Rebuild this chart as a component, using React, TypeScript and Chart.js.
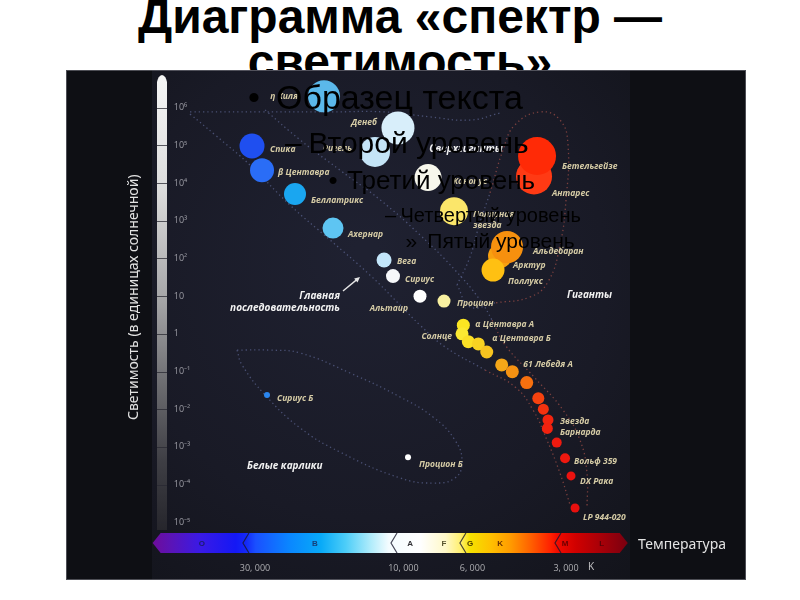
import React, { useEffect, useRef } from 'react';
import { Chart, registerables } from 'chart.js';

Chart.register(...registerables);

// ---------------- data ----------------
const starNames = [
  'η Киля', 'Денеб', 'Ригель', 'Спика', 'β Центавра', 'Беллатрикс', 'Ахернар', 'Вега', 'Сириус',
  'Альтаир', 'Процион', 'Канопус', 'Полярная\nзвезда', 'Арктур', 'Альдебаран', 'Поллукс', 'Антарес',
  'Бетельгейзе', 'α Центавра A', 'Солнце', '', 'α Центавра Б', '', '', '61 Лебедя A', '', '', '',
  'Звезда\nБарнарда', '', '', 'Вольф 359', 'DX Рака', 'LP 944-020', 'Сириус Б', 'Процион Б',
];
// effective temperature, K
const starTemps = [
  18000, 10410, 12340, 30670, 28480, 22310, 16840, 11540, 10800, 8844, 7403, 8333, 6876, 4890, 4643,
  5150, 3802, 3718, 6417, 6479, 6184, 5742, 5396, 4830, 4465, 4013, 3683, 3549, 3428, 3445, 3214,
  3022, 2891, 2806, 27450, 9663,
];
// luminosity, solar units
const starLums = [
  2.0e6, 2.9e5, 6.7e4, 9.6e4, 2.2e4, 5100, 640, 91, 34, 10, 7.4, 1.4e4, 1800, 116, 200, 49, 1.5e4,
  5.2e4, 1.7, 1.0, 0.62, 0.54, 0.33, 0.15, 0.099, 0.051, 0.0195, 0.01, 0.0052, 0.0031, 0.0013,
  5.0e-4, 1.7e-4, 2.4e-5, 0.024, 5.3e-4,
];

const yTickValues = [1e6, 1e5, 1e4, 1e3, 1e2, 10, 1, 0.1, 0.01, 1e-3, 1e-4, 1e-5];
const yTickLabels = ['10⁶', '10⁵', '10⁴', '10³', '10²', '10', '1', '10⁻¹', '10⁻²', '10⁻³', '10⁻⁴', '10⁻⁵'];
const xTickValues = [30000, 10000, 6000, 3000];
const xTickLabels = ['30, 000', '10, 000', '6, 000', '3, 000'];

const spectralClasses = ['O', 'B', 'A', 'F', 'G', 'K', 'M', 'L'];
const spectralLabelTemps = [44500, 19250, 9520, 7405, 6107, 4890, 3022, 2303];
const spectralBoundaries = [32800, 10960, 6580, 3255];
const temperatureBarEnds = [64000, 1900];

const regionNames = ['Сверхгиганты', 'Главная\nпоследовательность', 'Гиганты', 'Белые карлики'];
const regionTemps = [6290, 15990, 2978, 31830];
const regionLums = [8.0e4, 10.1, 10.7, 3.1e-4];

const arrowFrom = [15640, 13.7];
const arrowTo = [13790, 32.2];

// dotted region outlines as [temperature, luminosity]
const supergiantEdge = [
  [48550, 7.7e5], [28910, 7.7e5], [17220, 7.7e5], [11460, 7.7e5], [8211, 5.7e5], [6107, 4.7e5], [4890, 7.2e5],
];
const mainSeqLowerEdge = [
  [48550, 6.8e5], [40340, 1.9e5], [31130, 3.0e4], [23150, 2600], [17220, 310], [12800, 36], [10250, 5.8],
  [8844, 1.7], [7348, 0.45], [5465, 0.11], [4376, 0.039], [3830, 0.0095], [3453, 0.0015], [3136, 2.0e-4],
  [2912, 2.9e-5],
];
const mainSeqUpperEdge = [
  [27850, 8.7e5], [21500, 1.4e5], [15990, 2.2e4], [11890, 3600], [8844, 420], [6823, 49], [5670, 7.9],
  [5188, 2.3], [4713, 0.51], [3774, 0.067], [3067, 0.0095], [2704, 0.0015], [2568, 2.0e-4], [2568, 2.5e-5],
];
const giantsEdge = [
  [6723, 19.8], [6107, 110], [5670, 930], [5266, 5500], [4784, 7.5e4], [4376, 3.5e5], [3637, 7.7e5],
  [3136, 4.7e5], [2956, 1.0e5], [3000, 3600], [3136, 230], [3428, 24], [3916, 9.5], [5074, 6.6],
  [6107, 5.2], [6723, 19.8],
];
const whiteDwarfEdge = [
  [34280, 0.37], [26850, 0.37], [21500, 0.31], [14850, 0.0915], [10250, 0.0211], [8032, 0.0062],
  [6823, 0.0015], [6479, 4.0e-4], [6823, 1.5e-4], [8032, 1.1e-4], [10250, 1.5e-4], [15990, 7.3e-4],
  [21500, 0.0032], [27850, 0.024], [33030, 0.15], [34280, 0.37],
];

// ---------------- styles ----------------
const starRadii = [
  16, 16.5, 15, 12.5, 12, 11, 10.5, 7.5, 7, 6.5, 6.5, 13.5, 14, 12, 16, 11.5, 18, 19,
  6.5, 6.5, 6.5, 6.5, 6.5, 6.5, 6.5, 6.5, 6, 5.5, 5.5, 5.5, 5, 5, 4.5, 4.5, 3, 3,
];
const starColors = [
  '#5bb8ea', '#d8eefa', '#c4e4f6', '#1f4ff0', '#2a6df6', '#1aa6f0', '#5ec5f2', '#c3e6fa', '#f6f8fa',
  '#ffffff', '#f8f0a0', '#f7f7ec', '#fbe66a', '#f8a010', '#f6900e', '#ffc012', '#ff3a14', '#ff2a06',
  '#fbe622', '#fbe932', '#fbe026', '#f8d222', '#f7c420', '#f5a718', '#f59212', '#f6700f', '#f5420f',
  '#f3320f', '#f2240f', '#f2220f', '#ee1a0f', '#ee180f', '#ec120f', '#e8100e', '#2a86f0', '#ffffff',
];
const labelOffsets: [number, number, CanvasTextAlign][] = [
  [-26, 0, 'right'], [-21, -5, 'right'], [-23, -3, 'right'], [18, 4, 'left'], [16, 2, 'left'],
  [16, 6, 'left'], [15, 7, 'left'], [13, 2, 'left'], [12, 3, 'left'], [-12, 12, 'right'],
  [13, 3, 'left'], [25, 4, 'left'], [19, 3, 'left'], [13, 10, 'left'], [26, 4, 'left'],
  [15, 11, 'left'], [18, 17, 'left'], [25, 11, 'left'], [12, -1, 'left'], [-10, 3, 'right'],
  [0, 0, 'left'], [14, -5, 'left'], [0, 0, 'left'], [0, 0, 'left'], [11, -7, 'left'], [0, 0, 'left'],
  [0, 0, 'left'], [0, 0, 'left'], [12, 2, 'left'], [0, 0, 'left'], [0, 0, 'left'], [9, 3, 'left'],
  [9, 6, 'left'], [8, 10, 'left'], [10, 4, 'left'], [11, 7, 'left'],
];
const regionAlign: CanvasTextAlign[] = ['center', 'right', 'left', 'left'];
const spectralLetterColors = ['#1c1c6a', '#16407a', '#333338', '#5a5530', '#4a3a00', '#6a3000', '#6a0000', '#5a0008'];

const FONT = "'Liberation Sans', Arial, sans-serif";

const outlineColor = (t: number) => (t < 5300 ? 'rgba(175,85,75,0.65)' : 'rgba(105,115,165,0.6)');

const bgPlugin = {
  id: 'hrBackground',
  beforeDraw(chart: any) {
    const { ctx, chartArea } = chart;
    const W = chart.width;
    const H = chart.height;
    const xs = chart.scales.x;
    const ys = chart.scales.y;
    ctx.save();
    ctx.fillStyle = '#0e0f14';
    ctx.fillRect(0, 0, W, H);
    const g = ctx.createRadialGradient(300, 180, 10, 300, 230, 430);
    g.addColorStop(0, '#1f2131');
    g.addColorStop(0.55, '#191a26');
    g.addColorStop(1, '#111218');
    ctx.fillStyle = g;
    ctx.fillRect(86, 0, 478, H);

    // luminosity bar
    const bx0 = chartArea.left - 11.3;
    const bx1 = chartArea.left - 1.3;
    const btop = 5;
    const bbot = chartArea.bottom - 3.5;
    const lg = ctx.createLinearGradient(0, btop, 0, bbot);
    lg.addColorStop(0, '#f6f6f6');
    lg.addColorStop(0.25, '#dcdcdc');
    lg.addColorStop(0.5, '#a4a4a6');
    lg.addColorStop(0.68, '#6c6c70');
    lg.addColorStop(0.85, '#3e3e44');
    lg.addColorStop(1, '#26262c');
    ctx.fillStyle = lg;
    ctx.beginPath();
    ctx.moveTo(bx0, bbot);
    ctx.lineTo(bx0, btop + 7);
    ctx.quadraticCurveTo(bx0 + 1, btop + 1, (bx0 + bx1) / 2, btop);
    ctx.quadraticCurveTo(bx1 - 1, btop + 1, bx1, btop + 7);
    ctx.lineTo(bx1, bbot);
    ctx.closePath();
    ctx.fill();
    ctx.strokeStyle = 'rgba(40,40,50,0.75)';
    ctx.lineWidth = 1;
    yTickValues.forEach((v) => {
      const y = Math.round(ys.getPixelForValue(v)) + 0.5;
      ctx.beginPath();
      ctx.moveTo(bx0, y);
      ctx.lineTo(bx1, y);
      ctx.stroke();
    });

    // temperature bar
    const tx0 = xs.getPixelForValue(temperatureBarEnds[0]);
    const tx1 = xs.getPixelForValue(temperatureBarEnds[1]);
    const ty0 = 463;
    const ty1 = ty0 + 20;
    const tym = (ty0 + ty1) / 2;
    const tg = ctx.createLinearGradient(tx0, 0, tx1, 0);
    const stops: [number, string][] = [
      [0, '#6e0c9a'], [0.04, '#5a14b8'], [0.1, '#3a1ae6'], [0.175, '#1418f5'], [0.196, '#1428f8'],
      [0.217, '#1a50ff'], [0.29, '#0a88ff'], [0.354, '#08aaf8'], [0.406, '#4ccdf8'], [0.459, '#b0ecfb'],
      [0.497, '#f4fcff'], [0.564, '#ffffff'], [0.617, '#fff8c8'], [0.648, '#fff070'], [0.669, '#f5e000'],
      [0.712, '#ffc000'], [0.754, '#ff9a00'], [0.796, '#ff6000'], [0.838, '#ff2000'], [0.853, '#f00a00'],
      [0.891, '#d00000'], [0.943, '#a80008'], [1, '#7a0010'],
    ];
    stops.forEach(([o, c]) => tg.addColorStop(o, c));
    ctx.fillStyle = tg;
    ctx.beginPath();
    ctx.moveTo(tx0, tym);
    ctx.lineTo(tx0 + 8, ty0);
    ctx.lineTo(tx1 - 8, ty0);
    ctx.lineTo(tx1, tym);
    ctx.lineTo(tx1 - 8, ty1);
    ctx.lineTo(tx0 + 8, ty1);
    ctx.closePath();
    ctx.fill();
    ctx.strokeStyle = 'rgba(25,25,45,0.8)';
    ctx.lineWidth = 1.2;
    spectralBoundaries.forEach((t) => {
      const x = xs.getPixelForValue(t);
      ctx.beginPath();
      ctx.moveTo(x + 6, ty0);
      ctx.lineTo(x, tym);
      ctx.lineTo(x + 6, ty1);
      ctx.stroke();
    });
    ctx.font = `bold 8px ${FONT}`;
    ctx.textAlign = 'center';
    ctx.textBaseline = 'middle';
    spectralClasses.forEach((c, i) => {
      ctx.fillStyle = spectralLetterColors[i];
      ctx.fillText(c, xs.getPixelForValue(spectralLabelTemps[i]), tym + 0.5);
    });
    ctx.restore();
  },
  afterDatasetsDraw(chart: any) {
    const { ctx, chartArea } = chart;
    const xs = chart.scales.x;
    const ys = chart.scales.y;
    ctx.save();
    const drawMulti = (text: string, x: number, y: number, lh: number) => {
      const lines = text.split('\n');
      lines.forEach((ln, k) => ctx.fillText(ln, x, y + k * lh));
    };
    // star labels
    ctx.font = `italic bold 8.5px 'Open Sans', ${FONT}`;
    ctx.fillStyle = '#d6cca6';
    ctx.textBaseline = 'middle';
    starNames.forEach((name, i) => {
      if (!name) return;
      const [dx, dy, al] = labelOffsets[i];
      ctx.textAlign = al;
      drawMulti(name, xs.getPixelForValue(starTemps[i]) + dx, ys.getPixelForValue(starLums[i]) + dy, 11);
    });
    // region labels
    ctx.font = `italic bold 10px 'Open Sans', ${FONT}`;
    ctx.fillStyle = '#f2f2f2';
    regionNames.forEach((name, i) => {
      ctx.textAlign = regionAlign[i];
      drawMulti(name, xs.getPixelForValue(regionTemps[i]), ys.getPixelForValue(regionLums[i]), 12);
    });
    // arrow
    const ax0 = xs.getPixelForValue(arrowFrom[0]);
    const ay0 = ys.getPixelForValue(arrowFrom[1]);
    const ax1 = xs.getPixelForValue(arrowTo[0]);
    const ay1 = ys.getPixelForValue(arrowTo[1]);
    const ang = Math.atan2(ay1 - ay0, ax1 - ax0);
    ctx.strokeStyle = '#e6e6e6';
    ctx.fillStyle = '#e6e6e6';
    ctx.lineWidth = 1.4;
    ctx.beginPath();
    ctx.moveTo(ax0, ay0);
    ctx.lineTo(ax1 - 3 * Math.cos(ang), ay1 - 3 * Math.sin(ang));
    ctx.stroke();
    ctx.beginPath();
    ctx.moveTo(ax1, ay1);
    ctx.lineTo(ax1 - 6 * Math.cos(ang - 0.45), ay1 - 6 * Math.sin(ang - 0.45));
    ctx.lineTo(ax1 - 6 * Math.cos(ang + 0.45), ay1 - 6 * Math.sin(ang + 0.45));
    ctx.closePath();
    ctx.fill();
    // axis titles
    ctx.fillStyle = '#e2e2e2';
    ctx.font = `14px 'Noto Sans', ${FONT}`;
    ctx.textAlign = 'left';
    ctx.textBaseline = 'middle';
    ctx.save();
    ctx.translate(chartArea.left - 34, 350);
    ctx.rotate(-Math.PI / 2);
    ctx.fillText('Светимость (в единицах солнечной)', 0, 0);
    ctx.restore();
    ctx.fillText('Температура', 572, 475);
    ctx.font = `10px 'Noto Sans', ${FONT}`;
    ctx.fillStyle = '#bdbdc0';
    ctx.textAlign = 'center';
    ctx.fillText('K', xs.getPixelForValue(3000) + 25, 497.5);
    // frame
    ctx.strokeStyle = 'rgba(120,120,128,0.6)';
    ctx.lineWidth = 1;
    ctx.strokeRect(0.5, 0.5, chart.width - 1, chart.height - 1);
    ctx.restore();
  },
};

const outlineDataset = (pts: number[][]) => ({
  type: 'line' as const,
  data: pts.map(([x, y]) => ({ x, y })),
  borderWidth: 1.3,
  borderDash: [1.3, 3],
  pointRadius: 0,
  tension: 0.45,
  fill: false,
  clip: false as any,
  segment: { borderColor: (c: any) => outlineColor((c.p0.parsed.x + c.p1.parsed.x) / 2) },
  borderColor: 'rgba(105,115,165,0.6)',
});

const overlayLines = [
  { mark: '•', text: 'Образец текста', size: 34, markX: 248, textX: 276, baseline: 108.7 },
  { mark: '–', text: 'Второй уровень', size: 30, markX: 285, textX: 308.5, baseline: 153.3 },
  { mark: '•', text: 'Третий уровень', size: 26, markX: 328.5, textX: 347, baseline: 189.3 },
  { mark: '–', text: 'Четвертый уровень', size: 20, markX: 385, textX: 400.5, baseline: 221.7 },
  { mark: '»', text: 'Пятый уровень', size: 21, markX: 405.5, textX: 427.3, baseline: 248 },
];

export default function App() {
  const ref = useRef<HTMLCanvasElement | null>(null);
  useEffect(() => {
    if (!ref.current) return;
    const chart = new Chart(ref.current, {
      type: 'scatter',
      data: {
        datasets: [
          {
            label: 'Звёзды',
            data: starTemps.map((t, i) => ({ x: t, y: starLums[i] })),
            pointRadius: starRadii,
            pointHoverRadius: starRadii,
            pointBackgroundColor: starColors,
            pointBorderWidth: 0,
            pointBorderColor: 'rgba(0,0,0,0)',
            clip: false as any,
          } as any,
          outlineDataset(supergiantEdge),
          outlineDataset(mainSeqLowerEdge),
          outlineDataset(mainSeqUpperEdge),
          outlineDataset(giantsEdge),
          outlineDataset(whiteDwarfEdge),
        ],
      },
      options: {
        responsive: false,
        animation: false,
        events: [],
        layout: { autoPadding: false, padding: { left: 0, right: 125.2, top: 9.4, bottom: 0 } },
        plugins: { legend: { display: false }, tooltip: { enabled: false } },
        scales: {
          x: {
            type: 'logarithmic',
            reverse: true,
            min: 2000,
            max: 57000,
            position: 'bottom',
            grid: { display: false, drawTicks: false },
            border: { display: false },
            afterBuildTicks: (s: any) => {
              s.ticks = xTickValues.map((v) => ({ value: v }));
            },
            afterFit: (s: any) => {
              s.height = 46.4;
              s.paddingLeft = 0;
              s.paddingRight = 0;
              s.paddingTop = 0;
              s.paddingBottom = 0;
            },
            ticks: {
              autoSkip: false,
              maxRotation: 0,
              padding: 29,
              color: '#aeaeb2',
              font: { family: "'Open Sans', sans-serif", size: 9 },
              callback: (_v: any, i: number) => xTickLabels[i],
            },
          },
          y: {
            type: 'logarithmic',
            min: Math.pow(10, -5.3),
            max: Math.pow(10, 6.75),
            position: 'left',
            grid: { display: false, drawTicks: false },
            border: { display: false },
            afterBuildTicks: (s: any) => {
              s.ticks = yTickValues.map((v) => ({ value: v }));
            },
            afterFit: (s: any) => {
              s.width = 102.3;
              s.paddingTop = 0;
              s.paddingBottom = 0;
              s.paddingLeft = 0;
              s.paddingRight = 0;
            },
            ticks: {
              mirror: true,
              padding: 5.5,
              color: '#9c9ca4',
              font: { family: "'Open Sans', sans-serif", size: 9 },
              callback: (_v: any, i: number) => yTickLabels[i],
            },
          },
        },
      } as any,
      plugins: [bgPlugin],
    });
    return () => chart.destroy();
  }, []);

  return (
    <div style={{ position: 'fixed', left: 0, top: 0, width: 800, height: 600, background: '#ffffff', overflow: 'hidden' }}>
      <div
        style={{
          position: 'absolute', left: 0, top: -6.1, width: 800, textAlign: 'center',
          fontFamily: FONT, fontWeight: 'bold', fontSize: 48, lineHeight: '45px', color: '#000', zIndex: 0,
        }}
      >
        Диаграмма «спектр —<br />светимость»
      </div>
      <canvas
        ref={ref}
        width={680}
        height={510}
        style={{ position: 'absolute', left: 66, top: 70, width: 680, height: 510, zIndex: 1 }}
      />
      {overlayLines.map((l, i) => (
        <React.Fragment key={i}>
          <div style={{ position: 'absolute', zIndex: 2, left: l.markX, top: l.baseline - 0.8465 * l.size, fontFamily: FONT, fontSize: l.size, lineHeight: 1, whiteSpace: 'nowrap', color: '#000' }}>{l.mark}</div>
          <div style={{ position: 'absolute', zIndex: 2, left: l.textX, top: l.baseline - 0.8465 * l.size, fontFamily: FONT, fontSize: l.size, lineHeight: 1, whiteSpace: 'nowrap', color: '#000' }}>{l.text}</div>
        </React.Fragment>
      ))}
    </div>
  );
}
